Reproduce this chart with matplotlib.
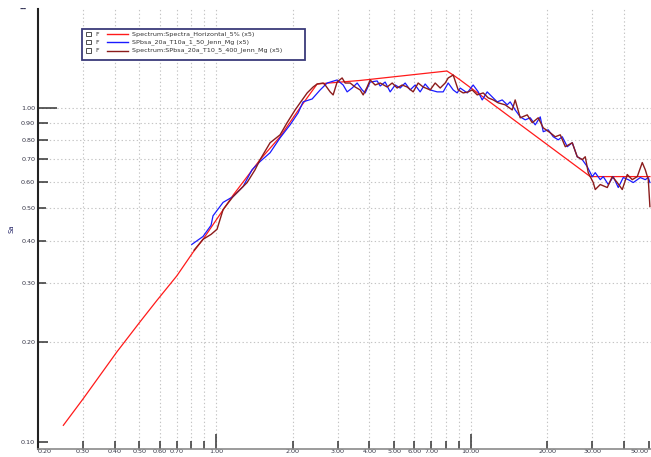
import numpy as np
import matplotlib
matplotlib.use("Agg")
import matplotlib.pyplot as plt
from matplotlib.patches import Rectangle
from matplotlib.lines import Line2D
from matplotlib.ticker import FixedLocator, NullLocator

# target spectrum (red)
target_f = [0.2515, 0.301, 0.4075, 0.503, 0.585, 0.701, 0.812, 0.889, 1.166, 1.489,
            1.784, 2.138, 2.494, 3.679, 8.06, 8.53, 9.089, 29.45, 50.5]
target_sa = [0.1124, 0.135, 0.186, 0.229, 0.265, 0.314, 0.3695, 0.404, 0.547, 0.699,
             0.818, 1.0, 1.176, 1.205, 1.286, 1.251, 1.209, 0.622, 0.622]

# first record (blue)
rec1_f = [0.803, 0.889, 0.956, 0.973, 1.066, 1.166, 1.277, 1.385, 1.489, 1.630,
          1.784, 1.953, 2.100, 2.197, 2.384, 2.563, 2.730, 2.988, 3.155, 3.271,
          3.422, 3.581, 3.747, 3.850, 4.027, 4.291, 4.409, 4.612, 4.826, 5.049,
          5.282, 5.526, 5.782, 6.049, 6.328, 6.622, 6.929, 7.382, 7.793, 8.155,
          8.531, 8.845, 9.089, 9.683, 10.22, 10.70, 11.09, 11.60, 12.14, 12.70,
          13.29, 13.90, 14.28, 14.94, 15.64, 16.36, 17.12, 17.91, 18.74, 19.25,
          20.14, 21.08, 22.05, 22.87, 23.93, 25.03, 26.18, 27.40, 28.66, 29.99,
          30.81, 32.24, 33.12, 34.66, 36.26, 37.93, 39.69, 41.53, 43.45, 46.28,
          48.43, 49.77, 50.5]
rec1_sa = [0.390, 0.412, 0.445, 0.475, 0.521, 0.542, 0.581, 0.652, 0.690, 0.733,
           0.812, 0.888, 0.964, 1.040, 1.061, 1.129, 1.184, 1.209, 1.168, 1.114,
           1.144, 1.184, 1.129, 1.106, 1.192, 1.201, 1.160, 1.192, 1.114, 1.168,
           1.144, 1.184, 1.129, 1.168, 1.114, 1.176, 1.129, 1.114, 1.114, 1.184,
           1.129, 1.106, 1.144, 1.106, 1.168, 1.114, 1.054, 1.114, 1.076, 1.040,
           1.054, 1.019, 1.040, 0.984, 0.938, 0.919, 0.932, 0.888, 0.938, 0.847,
           0.858, 0.818, 0.801, 0.818, 0.764, 0.785, 0.713, 0.699, 0.666, 0.622,
           0.639, 0.609, 0.622, 0.589, 0.622, 0.577, 0.618, 0.609, 0.597, 0.618,
           0.609, 0.618, 0.597]

# second record (dark red)
rec2_f = [0.82, 0.889, 0.956, 1.009, 1.066, 1.166, 1.324, 1.423, 1.489, 1.630,
          1.784, 1.901, 2.044, 2.138, 2.279, 2.405, 2.494, 2.633, 2.682, 2.805,
          2.882, 2.988, 3.126, 3.212, 3.361, 3.517, 3.679, 3.781, 3.920, 4.027,
          4.213, 4.409, 4.697, 4.914, 5.140, 5.379, 5.627, 5.941, 6.216, 6.503,
          6.929, 7.249, 7.585, 7.936, 8.155, 8.531, 8.925, 9.339, 9.770, 10.13,
          10.60, 11.19, 11.71, 12.25, 12.82, 13.65, 14.55, 14.94, 15.64, 16.66,
          17.43, 18.40, 19.25, 20.51, 21.46, 22.46, 23.50, 25.03, 26.18, 27.40,
          28.15, 28.92, 30.26, 30.81, 32.24, 34.35, 35.94, 37.59, 39.33, 41.15,
          43.05, 45.05, 47.13, 48.43, 49.77, 50.5]
rec2_sa = [0.375, 0.404, 0.418, 0.433, 0.496, 0.542, 0.597, 0.652, 0.699, 0.785,
           0.829, 0.901, 0.984, 1.033, 1.106, 1.152, 1.176, 1.184, 1.168, 1.114,
           1.091, 1.192, 1.226, 1.184, 1.184, 1.152, 1.129, 1.091, 1.152, 1.209,
           1.168, 1.184, 1.152, 1.184, 1.144, 1.168, 1.152, 1.114, 1.184, 1.152,
           1.129, 1.184, 1.144, 1.184, 1.226, 1.251, 1.129, 1.106, 1.114, 1.129,
           1.091, 1.106, 1.069, 1.054, 1.033, 1.019, 0.984, 1.054, 0.932, 0.951,
           0.901, 0.932, 0.870, 0.841, 0.818, 0.829, 0.764, 0.785, 0.713, 0.699,
           0.713, 0.639, 0.597, 0.569, 0.589, 0.577, 0.622, 0.597, 0.569, 0.631,
           0.609, 0.622, 0.685, 0.652, 0.609, 0.506]

legend_names = ["Spectrum:Spectra_Horizontal_5% (x5)",
                "SPbsa_20a_T10a_1_50_Jenn_Mg (x5)",
                "Spectrum:SPbsa_20a_T10_5_400_Jenn_Mg (x5)"]
line_colors = ["#ff1a1a", "#1a1aff", "#8b1c1c"]

x_ticks = [0.2, 0.3, 0.4, 0.5, 0.6, 0.7, 0.8, 0.9, 1, 2, 3, 4, 5, 6, 7, 8, 9, 10, 20, 30, 40, 50]
x_labels = ["0.20", "0.30", "0.40", "0.50", "0.60", "0.70", "", "", "1.00", "2.00", "3.00",
            "4.00", "5.00", "6.00", "7.00", "", "", "10.00", "20.00", "30.00", "", "50.00"]
y_ticks = [0.1, 0.2, 0.3, 0.4, 0.5, 0.6, 0.7, 0.8, 0.9, 1.0]
y_labels = ["0.10", "0.20", "0.30", "0.40", "0.50", "0.60", "0.70", "0.80", "0.90", "1.00"]

W, H = 651, 457
fig = plt.figure(figsize=(W / 100, H / 100), dpi=100)
ax = fig.add_axes([38 / W, 1 - 449 / H, 1 - 38 / W, (449 - 9) / H])

ax.plot(target_f, target_sa, color=line_colors[0], lw=0.9, zorder=3)
ax.plot(rec1_f, rec1_sa, color=line_colors[1], lw=0.9, zorder=4)
ax.plot(rec2_f, rec2_sa, color=line_colors[2], lw=1.0, zorder=5)

ax.set_xscale("log")
ax.set_yscale("log")
ax.set_xlim(0.2, 51)
ax.set_ylim(0.0955, 1.97)

ax.xaxis.set_major_locator(FixedLocator(x_ticks))
ax.xaxis.set_minor_locator(NullLocator())
ax.yaxis.set_major_locator(FixedLocator(y_ticks))
ax.yaxis.set_minor_locator(NullLocator())
ax.set_xticklabels(x_labels)
ax.set_yticklabels(y_labels)

ax.grid(True, which="major", color="#c4c4c4", lw=0.8, ls=(0, (1.2, 2.2)))
ax.tick_params(axis="both", direction="in", labelsize=4.6, labelcolor="#333344",
               width=1.1, color="#333333")
ax.tick_params(axis="x", pad=0.3)
ax.tick_params(axis="y", pad=2)

for s in ["top", "right"]:
    ax.spines[s].set_visible(False)
ax.spines["left"].set_color("#222222")
ax.spines["left"].set_linewidth(1.5)
ax.spines["bottom"].set_color("#8a8a8a")
ax.spines["bottom"].set_linewidth(1.2)

# per-tick lengths like the original software
for t, v in zip(ax.xaxis.get_major_ticks(), x_ticks):
    if v in (1, 10):
        t.tick1line.set_markersize(11)
        t.tick1line.set_color("#999999")
    elif v in (0.8, 0.9, 8, 9, 40, 50):
        t.tick1line.set_markersize(6)
        t.tick1line.set_color("#888888")
    else:
        t.tick1line.set_markersize(6)
    if v in (0.2, 50):
        t.gridline.set_visible(False)
for t, v in zip(ax.yaxis.get_major_ticks(), y_ticks):
    if v == 1.0:
        t.tick1line.set_markersize(14)
    elif v in (0.3, 0.4, 0.5):
        t.tick1line.set_markersize(6)
        t.tick1line.set_color("#888888")
    else:
        t.tick1line.set_markersize(7)
    if v == 0.1:
        t.gridline.set_visible(False)

xl = ax.get_xticklabels()
xl[0].set_ha("left")
xl[-1].set_ha("right")

ax.set_ylabel("Sa", fontsize=5, color="#222266")
ax.yaxis.set_label_coords(-0.038, 0.5)
ax.annotate("--", xy=(0, 1), xycoords="axes fraction", xytext=(-11, 0),
            textcoords="offset points", fontsize=6, ha="center", va="center",
            color="#333355", fontweight="bold")

# legend box drawn in figure pixels
px = lambda x: x / W
py = lambda y: 1 - y / H
fig.add_artist(Rectangle((px(82), py(60)), px(305) - px(82), py(29) - py(60),
                         transform=fig.transFigure, fill=True, facecolor="white",
                         edgecolor="#3a3a7a", lw=1.3, zorder=10))
rows = [34, 42, 50.5]
for yy, name, c in zip(rows, legend_names, line_colors):
    fig.add_artist(Rectangle((px(86), py(yy + 2.2)), px(4.5), py(yy - 2.2) - py(yy + 2.2),
                             transform=fig.transFigure, fill=False, edgecolor="#333333",
                             lw=0.6, zorder=11))
    fig.text(px(95), py(yy), "F", fontsize=4.5, va="center", ha="left", color="#333333", zorder=11)
    fig.add_artist(Line2D([px(107), px(128)], [py(yy), py(yy)], color=c, lw=1.0,
                          transform=fig.transFigure, zorder=11))
    fig.text(px(132), py(yy), name, fontsize=4.6, va="center", ha="left", color="#333333", zorder=11)

fig.savefig("out.png", dpi=100)
